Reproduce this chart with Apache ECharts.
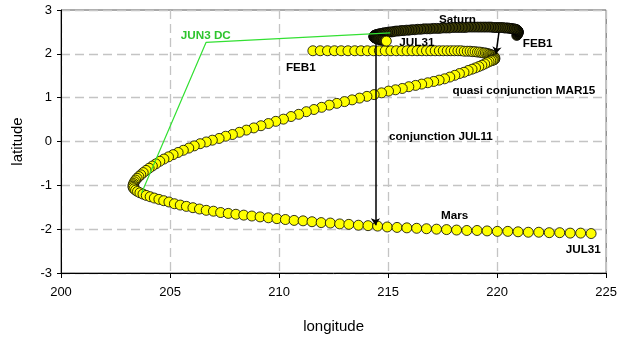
<!DOCTYPE html>
<html>
<head>
<meta charset="utf-8">
<script src="https://cdn.jsdelivr.net/npm/echarts@6/dist/echarts.min.js"></script>
<style>
  html, body { margin: 0; padding: 0; background: #fff; }
  #chart { width: 620px; height: 342px; }
</style>
</head>
<body>
<div id="chart"></div>
<script>
// Mars, one dot per day FEB1 .. JUL31 (longitude / latitude in degrees)
const marsLon = [
  211.55, 211.89, 212.22, 212.54, 212.85, 213.16, 213.47, 213.76, 214.05, 214.33,
  214.60, 214.87, 215.13, 215.38, 215.63, 215.87, 216.10, 216.33, 216.55, 216.76,
  216.96, 217.16, 217.35, 217.53, 217.71, 217.88, 218.04, 218.20, 218.35, 218.49,
  218.63, 218.76, 218.88, 218.99, 219.10, 219.20, 219.29, 219.38, 219.46, 219.53,
  219.60, 219.66, 219.71, 219.76, 219.80, 219.83, 219.86, 219.88,
  219.90, 219.89, 219.87, 219.83, 219.78, 219.71, 219.63, 219.54, 219.43, 219.30,
  219.16, 219.01, 218.85, 218.67, 218.48, 218.27, 218.06, 217.83, 217.59, 217.34,
  217.09, 216.82, 216.54, 216.26, 215.95, 215.65, 215.34, 215.02, 214.70, 214.36,
  214.03, 213.69, 213.35, 213.00, 212.65, 212.30, 211.95, 211.60, 211.25, 210.90,
  210.55, 210.20, 209.85, 209.51, 209.17, 208.84, 208.50, 208.18, 207.86, 207.55,
  207.25, 206.94, 206.66, 206.38, 206.11, 205.86, 205.61, 205.37, 205.14, 204.93,
  204.72, 204.53, 204.35, 204.19, 204.04, 203.90, 203.77, 203.66, 203.57, 203.49,
  203.42, 203.37, 203.33, 203.31, 203.30,
  203.31, 203.35, 203.42, 203.51, 203.62, 203.76, 203.91, 204.09, 204.28, 204.49,
  204.71, 204.95, 205.20, 205.47, 205.75, 206.05, 206.35, 206.66, 206.99, 207.32,
  207.67, 208.02, 208.38, 208.75, 209.13, 209.51, 209.90, 210.29, 210.69, 211.10,
  211.51, 211.93, 212.35, 212.78, 213.20, 213.64, 214.08, 214.52, 214.96, 215.41,
  215.86, 216.31, 216.76, 217.22, 217.68, 218.14, 218.61, 219.08, 219.54, 220.01,
  220.49, 220.96, 221.43, 221.91, 222.39, 222.87, 223.35, 223.83, 224.31
];
const marsLat = [
  2.07, 2.07, 2.07, 2.07, 2.07, 2.07, 2.07, 2.07, 2.07, 2.07,
  2.07, 2.07, 2.07, 2.07, 2.07, 2.07, 2.07, 2.07, 2.07, 2.07,
  2.07, 2.07, 2.07, 2.07, 2.07, 2.07, 2.07, 2.07, 2.07, 2.06,
  2.06, 2.06, 2.05, 2.05, 2.04, 2.04, 2.03, 2.02, 2.02, 2.01,
  2.00, 1.99, 1.98, 1.97, 1.96, 1.95, 1.93, 1.92,
  1.90, 1.88, 1.87, 1.86, 1.85, 1.84, 1.82, 1.80, 1.77, 1.74,
  1.71, 1.68, 1.65, 1.62, 1.58, 1.55, 1.51, 1.47, 1.43, 1.40,
  1.37, 1.34, 1.31, 1.28, 1.25, 1.21, 1.18, 1.15, 1.11, 1.07,
  1.03, 0.99, 0.95, 0.91, 0.87, 0.83, 0.78, 0.73, 0.68, 0.62,
  0.57, 0.51, 0.46, 0.41, 0.36, 0.31, 0.26, 0.21, 0.16, 0.12,
  0.07, 0.03, -0.01, -0.05, -0.10, -0.15, -0.20, -0.25, -0.30, -0.35,
  -0.40, -0.45, -0.51, -0.56, -0.61, -0.66, -0.71, -0.76, -0.80, -0.84,
  -0.88, -0.92, -0.96, -0.99, -1.02,
  -1.05, -1.08, -1.11, -1.14, -1.17, -1.20, -1.23, -1.26, -1.29, -1.32,
  -1.35, -1.38, -1.42, -1.45, -1.48, -1.51, -1.54, -1.57, -1.59, -1.62,
  -1.64, -1.66, -1.68, -1.70, -1.72, -1.74, -1.76, -1.78, -1.80, -1.81,
  -1.83, -1.85, -1.86, -1.88, -1.89, -1.91, -1.92, -1.93, -1.95, -1.96,
  -1.97, -1.98, -1.99, -2.00, -2.01, -2.02, -2.03, -2.03, -2.04, -2.05,
  -2.05, -2.06, -2.07, -2.07, -2.08, -2.08, -2.09, -2.09, -2.10
];

// Saturn, every second day FEB1 .. JUL30
const saturnLon = [
  220.90, 220.93, 220.95, 220.96, 220.97, 220.97, 220.96, 220.95, 220.94, 220.92,
  220.89, 220.85, 220.81, 220.76, 220.70, 220.64, 220.57, 220.50, 220.42, 220.34,
  220.25, 220.15, 220.05, 219.95, 219.84, 219.72, 219.61, 219.48, 219.36, 219.23,
  219.10, 218.96, 218.82, 218.68, 218.54, 218.40, 218.25, 218.10, 217.96, 217.81,
  217.66, 217.51, 217.36, 217.22, 217.07, 216.92, 216.78, 216.64, 216.50, 216.36,
  216.22, 216.09, 215.96, 215.84, 215.71, 215.60, 215.48, 215.37, 215.27, 215.17,
  215.07, 214.98, 214.90, 214.82, 214.75, 214.68, 214.62, 214.56, 214.51, 214.47,
  214.43, 214.40, 214.38, 214.37, 214.36, 214.35, 214.35, 214.36, 214.37, 214.39,
  214.41, 214.43, 214.46, 214.49, 214.53, 214.57, 214.62, 214.67, 214.72, 214.78,
  214.85
];
const saturnLat = [
  2.42, 2.44, 2.46, 2.47, 2.49, 2.50, 2.51, 2.52, 2.53, 2.54,
  2.55, 2.56, 2.56, 2.57, 2.57, 2.58, 2.58, 2.59, 2.59, 2.59,
  2.60, 2.60, 2.60, 2.60, 2.60, 2.61, 2.61, 2.61, 2.61, 2.61,
  2.61, 2.61, 2.61, 2.61, 2.60, 2.60, 2.60, 2.60, 2.60, 2.59,
  2.59, 2.59, 2.58, 2.58, 2.58, 2.57, 2.57, 2.57, 2.56, 2.56,
  2.55, 2.55, 2.54, 2.54, 2.53, 2.53, 2.52, 2.52, 2.51, 2.50,
  2.50, 2.49, 2.48, 2.48, 2.47, 2.46, 2.46, 2.45, 2.44, 2.44,
  2.43, 2.42, 2.42, 2.41, 2.40, 2.40, 2.39, 2.38, 2.38, 2.37,
  2.36, 2.36, 2.35, 2.34, 2.34, 2.33, 2.33, 2.32, 2.31, 2.31,
  2.30
];
const saturnJul31 = [214.92, 2.29];

// annotation lines
const jun3Line = [[215.1, 2.48], [206.65, 2.26], [203.7, -1.17]];
const conjArrow = [[214.42, 2.36], [214.42, -1.91]];
const quasiArrow = [[220.1, 2.55], [219.95, 2.0]];

// annotation texts
const noteText = ['Saturn', 'FEB1', 'JUL31', 'FEB1', 'JUN3 DC',
  'quasi conjunction MAR15', 'conjunction JUL11', 'Mars', 'JUL31'];
const noteLon = [218.18, 221.86, 216.32, 211.0, 206.64, 221.23, 217.42, 218.05, 223.95];
const noteLat = [2.78, 2.23, 2.26, 1.69, 2.41, 1.16, 0.11, -1.69, -2.48];

const FONT = 'Arial, "Liberation Sans", sans-serif';

const marsData = marsLon.map((x, i) => [x, marsLat[i]]);
const saturnData = saturnLon.map((x, i) => [x, saturnLat[i]]);
const noteData = noteText.map((t, i) => ({
  value: [noteLon[i], noteLat[i]],
  name: t,
  label: t === 'JUN3 DC' ? { color: '#2ec42e' } : {}
}));

const chart = echarts.init(document.getElementById('chart'));
chart.setOption({
  animation: false,
  grid: {
    left: 61, right: 9, top: 10, bottom: 69,
    show: true, borderColor: '#555', borderWidth: 1
  },
  xAxis: {
    type: 'value', min: 200, max: 225, interval: 5,
    name: 'longitude', nameLocation: 'middle', nameGap: 46,
    nameTextStyle: { fontFamily: FONT, fontSize: 15, color: '#000' },
    axisLine: { show: true, onZero: false, lineStyle: { color: '#000', width: 1 } },
    axisTick: { show: true, length: 5, lineStyle: { color: '#000' } },
    axisLabel: { fontFamily: FONT, fontSize: 13, color: '#000', margin: 13 },
    splitLine: { show: true, lineStyle: { color: '#c4c4c4', width: 1.3, type: [9, 5] } }
  },
  yAxis: {
    type: 'value', min: -3, max: 3, interval: 1,
    name: 'latitude', nameLocation: 'middle', nameGap: 36,
    nameTextStyle: { fontFamily: FONT, fontSize: 15, color: '#000' },
    axisLine: { show: true, onZero: false, lineStyle: { color: '#000', width: 1 } },
    axisTick: { show: true, length: 4, lineStyle: { color: '#000' } },
    axisLabel: { fontFamily: FONT, fontSize: 13, color: '#000', margin: 9 },
    splitLine: { show: true, lineStyle: { color: '#c4c4c4', width: 1.3, type: [9, 5] } }
  },
  series: [
    {
      name: 'Mars', type: 'scatter', data: marsData, z: 2,
      symbolSize: 10,
      itemStyle: { color: '#ffff00', borderColor: '#000', borderWidth: 0.8, opacity: 1 }
    },
    {
      type: 'lines', coordinateSystem: 'cartesian2d', z: 3,
      symbol: ['none', 'arrow'], symbolSize: 7,
      lineStyle: { color: '#000', width: 1.5, opacity: 1 },
      data: [{ coords: conjArrow }, { coords: quasiArrow }]
    },
    {
      name: 'Saturn', type: 'scatter', data: saturnData, z: 4,
      symbolSize: 10,
      itemStyle: { color: '#3b3b06', borderColor: '#000', borderWidth: 0.8, opacity: 1 }
    },
    {
      type: 'line', data: jun3Line, z: 5, symbol: 'none',
      lineStyle: { color: '#33e033', width: 1.2 }
    },
    {
      type: 'scatter', data: [saturnJul31], z: 6, symbolSize: 10,
      itemStyle: { color: '#ffff00', borderColor: '#000', borderWidth: 0.8, opacity: 1 }
    },
    {
      type: 'scatter', data: noteData, z: 7, symbolSize: 1,
      itemStyle: { color: 'rgba(0,0,0,0)' },
      label: {
        show: true, position: 'inside', formatter: '{b}', opacity: 1,
        fontFamily: FONT, fontSize: 11.7, fontWeight: 'bold', color: '#000',
        textBorderWidth: 0
      }
    }
  ]
});
</script>
</body>
</html>
